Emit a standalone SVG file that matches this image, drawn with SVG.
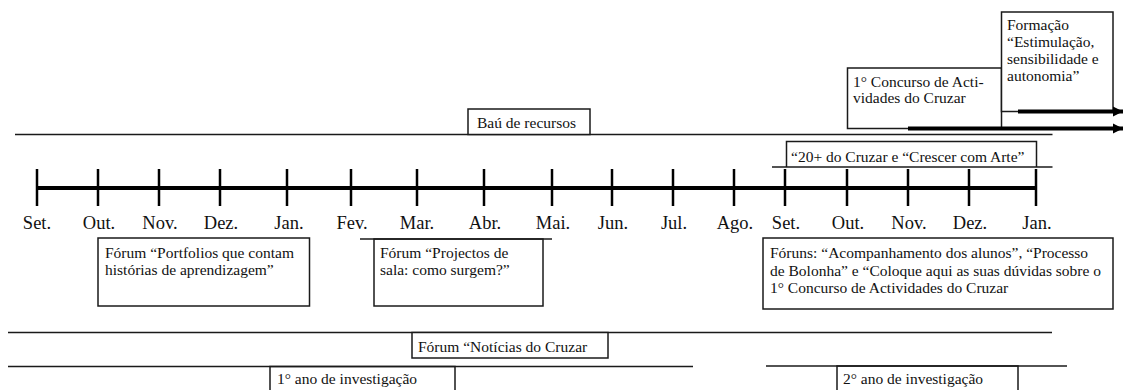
<svg xmlns="http://www.w3.org/2000/svg" width="1132" height="390" viewBox="0 0 1132 390">
<style>
  .bg{fill:#ffffff}
  .box{fill:#ffffff;stroke:#1a1a1a;stroke-width:1.5}
  .ln{fill:none;stroke:#1a1a1a;stroke-width:1.5}
  .thick{fill:none;stroke:#000;stroke-width:4}
  .tick{fill:none;stroke:#000;stroke-width:2.5}
  .arr{fill:none;stroke:#000;stroke-width:4}
  text{font-family:'Liberation Serif','DejaVu Serif','Times New Roman',serif;fill:#111}
  .t{font-size:15.5px}
  .m{font-size:18.5px;text-anchor:middle}
</style>
<defs>
  <marker id="ah" markerUnits="userSpaceOnUse" markerWidth="12" markerHeight="12" refX="10" refY="6" orient="auto">
    <path d="M0,1 L10,6 L0,11 Z" fill="#000"/>
  </marker>
</defs>
<rect class="bg" x="0" y="0" width="1132" height="390"/>

<g id="lines">
  <line class="ln" x1="15" y1="134.5" x2="1052.5" y2="134.5"/>
  <line class="ln" x1="772" y1="167" x2="1052.5" y2="167"/>
  <line class="ln" x1="8" y1="332.5" x2="1052" y2="332.5"/>
  <line class="ln" x1="8" y1="366.5" x2="693" y2="366.5"/>
  <line class="ln" x1="766" y1="366" x2="1067" y2="366"/>
</g>

<g id="timeline">
  <line class="thick" x1="36" y1="188" x2="1036" y2="188"/>
  <g class="tick">
    <line x1="37" y1="169" x2="37" y2="206"/>
    <line x1="98" y1="169" x2="98" y2="206"/>
    <line x1="159" y1="169" x2="159" y2="206"/>
    <line x1="220" y1="169" x2="220" y2="206"/>
    <line x1="287" y1="169" x2="287" y2="206"/>
    <line x1="351" y1="169" x2="351" y2="206"/>
    <line x1="417" y1="169" x2="417" y2="206"/>
    <line x1="484" y1="169" x2="484" y2="206"/>
    <line x1="552" y1="169" x2="552" y2="206"/>
    <line x1="612" y1="169" x2="612" y2="206"/>
    <line x1="673" y1="169" x2="673" y2="206"/>
    <line x1="734" y1="169" x2="734" y2="206"/>
    <line x1="785" y1="169" x2="785" y2="206"/>
    <line x1="847" y1="169" x2="847" y2="206"/>
    <line x1="908" y1="169" x2="908" y2="206"/>
    <line x1="969" y1="169" x2="969" y2="206"/>
    <line x1="1036" y1="169" x2="1036" y2="206"/>
  </g>
  <text class="m" x="37" y="229">Set.</text>
  <text class="m" x="99" y="229">Out.</text>
  <text class="m" x="160" y="229">Nov.</text>
  <text class="m" x="221" y="229">Dez.</text>
  <text class="m" x="289" y="229">Jan.</text>
  <text class="m" x="352" y="229">Fev.</text>
  <text class="m" x="417" y="229">Mar.</text>
  <text class="m" x="485" y="229">Abr.</text>
  <text class="m" x="553" y="229">Mai.</text>
  <text class="m" x="613" y="229">Jun.</text>
  <text class="m" x="674" y="229">Jul.</text>
  <text class="m" x="735" y="229">Ago.</text>
  <text class="m" x="786" y="229">Set.</text>
  <text class="m" x="848" y="229">Out.</text>
  <text class="m" x="909" y="229">Nov.</text>
  <text class="m" x="970" y="229">Dez.</text>
  <text class="m" x="1037" y="229">Jan.</text>
</g>

<g id="concurso">
  <rect class="box" x="847.5" y="68" width="154" height="60.5"/>
  <text class="t" x="853" y="87">1° Concurso de Acti-</text>
  <text class="t" x="853" y="103">vidades do Cruzar</text>
</g>

<g id="formacao">
  <rect class="box" x="1001.5" y="12" width="111.5" height="99.5"/>
  <text class="t" x="1007" y="30">Formação</text>
  <text class="t" x="1007" y="47">“Estimulação,</text>
  <text class="t" x="1007" y="64">sensibilidade e</text>
  <text class="t" x="1007" y="81">autonomia”</text>
</g>

<g id="connectors">
  <line class="arr" x1="1018" y1="111.5" x2="1123" y2="111.5" marker-end="url(#ah)"/>
  <line class="arr" x1="908" y1="128.5" x2="1123" y2="128.5" marker-end="url(#ah)"/>
</g>

<g id="bau">
  <rect class="box" x="468" y="109" width="122" height="25.5"/>
  <text class="t" x="477" y="128">Baú de recursos</text>
</g>

<g id="vinte">
  <path class="ln" d="M786.5,167 V141.5 H1036.5 V167"/>
  <text class="t" x="791" y="162">“20+ do Cruzar e “Crescer com Arte”</text>
</g>

<g id="portfolios">
  <rect class="box" x="98" y="238" width="211.5" height="68"/>
  <text class="t" x="105" y="258">Fórum “Portfolios que contam</text>
  <text class="t" x="105" y="275">histórias de aprendizagem”</text>
</g>

<g id="projectos">
  <rect class="box" x="374" y="239" width="169" height="67"/>
  <line class="ln" x1="360" y1="239" x2="552" y2="239"/>
  <text class="t" x="380" y="258">Fórum “Projectos de</text>
  <text class="t" x="380" y="275">sala: como surgem?”</text>
</g>

<g id="foruns">
  <rect class="box" x="763" y="238" width="350" height="71"/>
  <text class="t" x="770" y="258">Fóruns: “Acompanhamento dos alunos”, “Processo</text>
  <text class="t" x="770" y="275.5">de Bolonha” e “Coloque aqui as suas dúvidas sobre o</text>
  <text class="t" x="770" y="293">1° Concurso de Actividades do Cruzar</text>
</g>

<g id="noticias">
  <rect class="box" x="412" y="332.5" width="196" height="25.5"/>
  <text class="t" x="418" y="352">Fórum “Notícias do Cruzar</text>
</g>

<g id="ano1">
  <path class="ln" d="M270,391 V366.5 H455 V391"/>
  <text class="t" x="277" y="384">1° ano de investigação</text>
</g>

<g id="ano2">
  <path class="ln" d="M837,391 V366 H1018 V391"/>
  <text class="t" x="843" y="384">2° ano de investigação</text>
</g>
</svg>
